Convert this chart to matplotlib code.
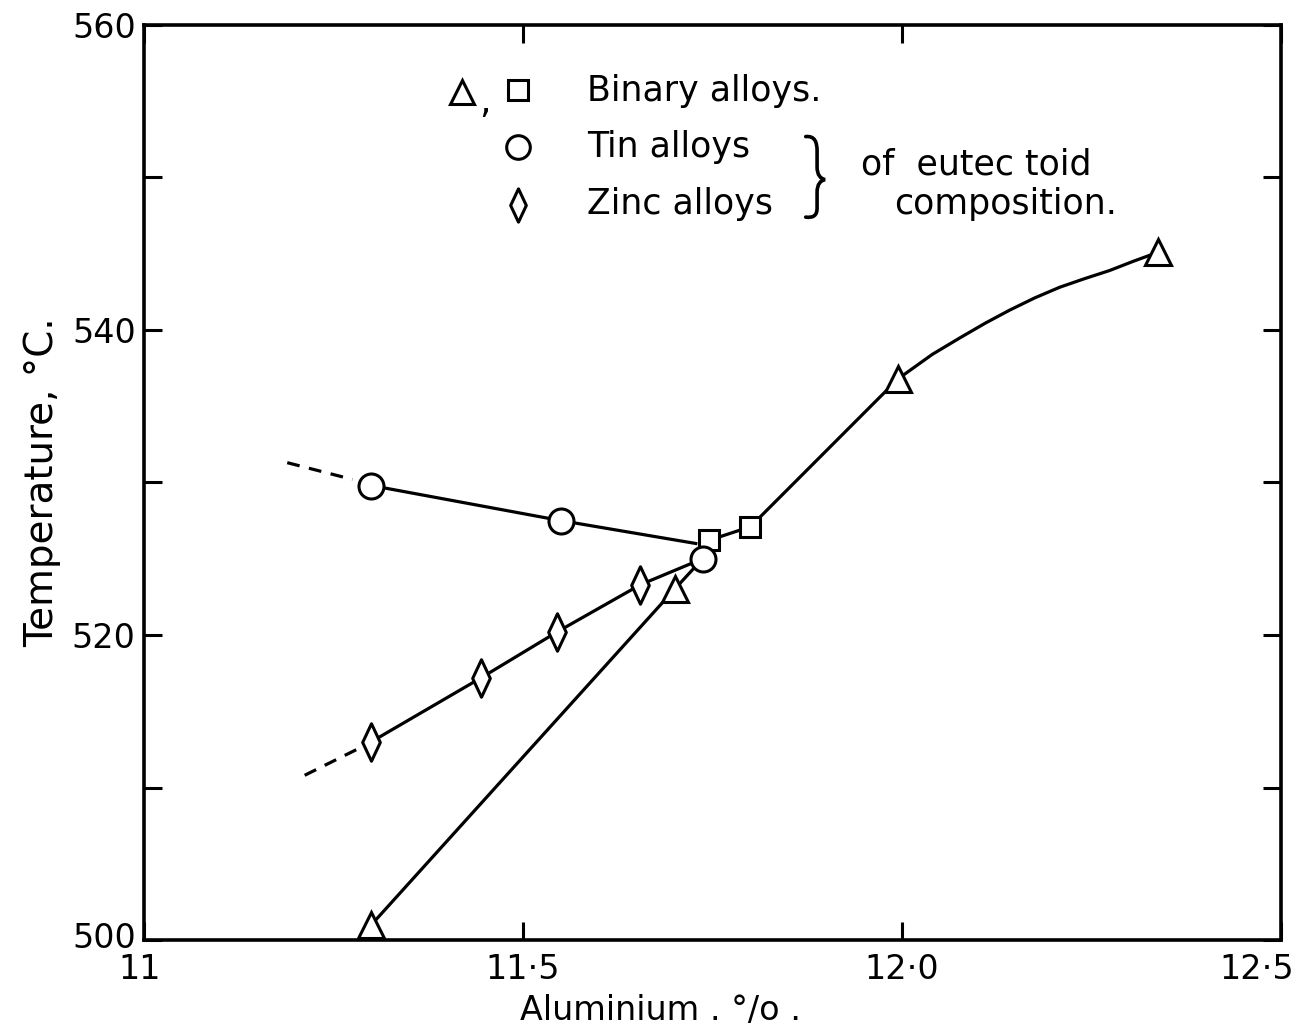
# Eutectoid temperature against aluminium content for binary, tin and zinc alloys
import numpy as np
import matplotlib.pyplot as plt
from matplotlib.path import Path
from matplotlib.patches import PathPatch
from matplotlib.transforms import ScaledTranslation

# Measured points
binary_tri_al = [11.3, 11.7, 11.995, 12.338]
binary_tri_t = [501.0, 523.0, 536.8, 545.1]
binary_sq_al = [11.745, 11.8]
binary_sq_t = [526.2, 527.1]
tin_al = [11.3, 11.55, 11.737]
tin_t = [529.8, 527.5, 525.0]
zinc_al = [11.3, 11.445, 11.545, 11.655]
zinc_t = [513.0, 517.2, 520.2, 523.3]

# Drawn curves
binary_curve_al = [11.3, 11.7, 11.737, 11.745, 11.8, 11.995, 12.04, 12.077, 12.11, 12.142, 12.175,
                   12.208, 12.24, 12.274, 12.305, 12.338]
binary_curve_t = [501.0, 523.0, 525.0, 526.2, 527.1, 536.8, 538.4, 539.5, 540.45, 541.3, 542.1,
                  542.8, 543.35, 543.9, 544.5, 545.1]
tin_curve_al = [11.3, 11.55, 11.728]
tin_curve_t = [529.8, 527.5, 526.0]
tin_dash_al = [11.189, 11.275]
tin_dash_t = [531.3, 530.2]
zinc_curve_al = [11.3, 11.445, 11.545, 11.655, 11.737]
zinc_curve_t = [513.0, 517.2, 520.2, 523.3, 525.0]
zinc_dash_al = [11.212, 11.285]
zinc_dash_t = [510.8, 512.6]

xticks = [11.0, 11.5, 12.0, 12.5]
xticklabels = ['11', '11·5', '12·0', '12·5']
yticks = [500, 520, 540, 560]

plt.rcParams['font.family'] = ['DejaVu Sans']
fig = plt.figure(figsize=(13.03, 10.27), dpi=100)
ax = fig.add_axes([0.1105, 0.0847, 0.8726, 0.891])

lw = 2.3
ax.plot(binary_curve_al, binary_curve_t, color='black', lw=lw, zorder=2)
ax.plot(tin_curve_al, tin_curve_t, color='black', lw=lw, zorder=2)
ax.plot(tin_dash_al, tin_dash_t, color='black', lw=lw, ls=(0, (4, 3)), zorder=2)
ax.plot(zinc_curve_al, zinc_curve_t, color='black', lw=lw, zorder=2)
ax.plot(zinc_dash_al, zinc_dash_t, color='black', lw=lw, ls=(0, (4, 3)), zorder=2)

thin_diamond = Path([(0, -1), (0.47, 0), (0, 1), (-0.47, 0), (0, -1)],
                    [Path.MOVETO, Path.LINETO, Path.LINETO, Path.LINETO, Path.CLOSEPOLY])
mk = dict(ls='none', mfc='white', mec='black', mew=2.2, zorder=3)
ax.plot(binary_tri_al, binary_tri_t, marker='^', ms=19, **mk)
ax.plot(binary_sq_al, binary_sq_t, marker='s', ms=15, **mk)
ax.plot(tin_al, tin_t, marker='o', ms=18, **mk)
ax.plot(zinc_al, zinc_t, marker=thin_diamond, ms=27, **mk)

ax.set_xlim(11.0, 12.5)
ax.set_ylim(500, 560)
ax.set_xticks(xticks)
ax.set_xticklabels(xticklabels)
ax.set_yticks(yticks)
ax.set_yticks([510, 530, 550], minor=True)
ax.set_xticks([], minor=True)
ax.tick_params(which='both', direction='in', length=13, width=2.2,
               top=True, right=True, labelsize=24)
ax.tick_params(axis='x', pad=9)
ax.tick_params(axis='y', pad=6)
for s in ax.spines.values():
    s.set_linewidth(2.6)

# nudge the corner labels so they stay clear of each other and the edge
xl = ax.get_xticklabels()
xl[-1].set_transform(xl[-1].get_transform() + ScaledTranslation(-0.24, 0, fig.dpi_scale_trans))
xl[0].set_transform(xl[0].get_transform() + ScaledTranslation(-0.04, 0, fig.dpi_scale_trans))
yl = ax.get_yticklabels()
yl[0].set_transform(yl[0].get_transform() + ScaledTranslation(0, 0.05, fig.dpi_scale_trans))

ax.set_xlabel('Aluminium . °/o .', fontsize=24, labelpad=6, x=0.454)
ax.set_ylabel('Temperature, °C.', fontsize=28, labelpad=8)

# key
tr = ax.transAxes
ax.plot([0.280], [0.927], marker='^', ms=17, transform=tr, clip_on=False, **mk)
ax.text(0.300, 0.915, ',', transform=tr, fontsize=26, ha='center', va='center')
ax.plot([0.329], [0.929], marker='s', ms=14, transform=tr, clip_on=False, **mk)
ax.plot([0.329], [0.867], marker='o', ms=17, transform=tr, clip_on=False, **mk)
ax.plot([0.329], [0.803], marker=thin_diamond, ms=24, transform=tr, clip_on=False, **mk)
ax.text(0.390, 0.928, 'Binary alloys.', transform=tr, fontsize=25, va='center')
ax.text(0.390, 0.867, 'Tin alloys', transform=tr, fontsize=25, va='center')
ax.text(0.390, 0.804, 'Zinc alloys', transform=tr, fontsize=25, va='center')
ax.text(0.631, 0.848, 'of  eutec toid', transform=tr, fontsize=25, va='center')
ax.text(0.660, 0.804, 'composition.', transform=tr, fontsize=25, va='center')

brace = Path(
    [(0.582, 0.878), (0.590, 0.879), (0.592, 0.872), (0.592, 0.862),
     (0.592, 0.845),
     (0.592, 0.836), (0.595, 0.832), (0.599, 0.831),
     (0.595, 0.830), (0.592, 0.826), (0.592, 0.817),
     (0.592, 0.800),
     (0.592, 0.792), (0.589, 0.789), (0.582, 0.790)],
    [Path.MOVETO, Path.CURVE4, Path.CURVE4, Path.CURVE4,
     Path.LINETO,
     Path.CURVE4, Path.CURVE4, Path.CURVE4,
     Path.CURVE4, Path.CURVE4, Path.CURVE4,
     Path.LINETO,
     Path.CURVE4, Path.CURVE4, Path.CURVE4])
ax.add_patch(PathPatch(brace, transform=tr, fill=False, lw=2.6, ec='black',
                       capstyle='round', clip_on=False))

fig.savefig('out.png', dpi=100, facecolor='white')
